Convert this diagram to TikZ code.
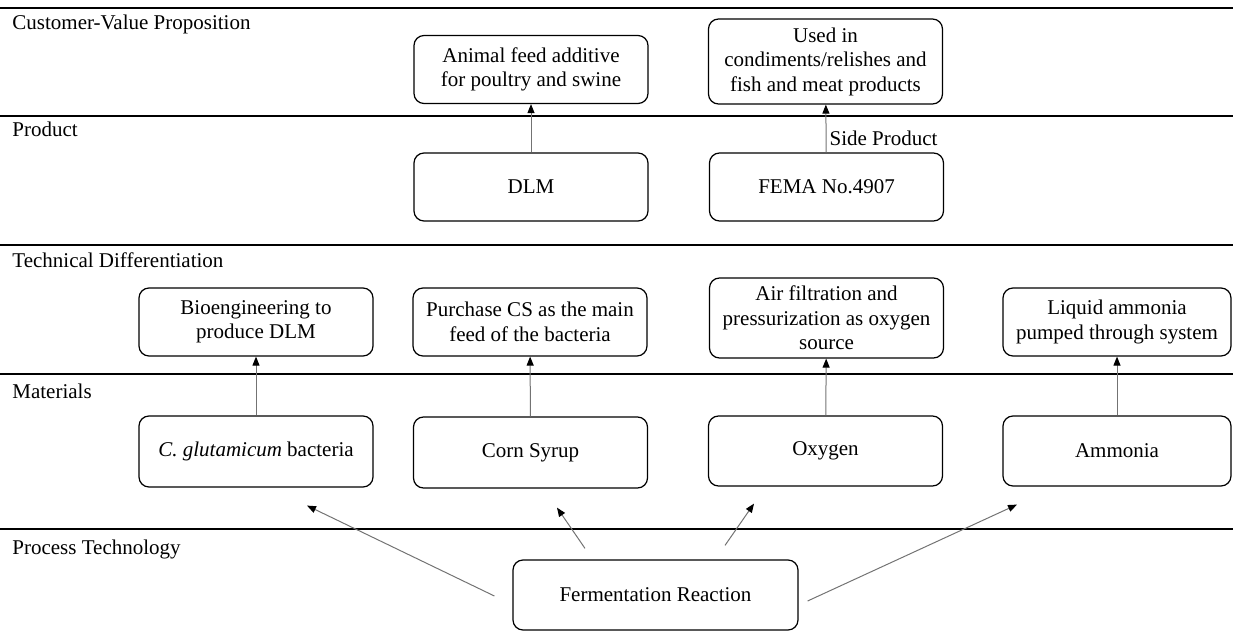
\documentclass[tikz,border=0pt]{standalone}
\usepackage{fontspec}
\setmainfont{Liberation Serif}
\usetikzlibrary{arrows.meta}
\tikzset{
  box/.style={rectangle, draw, rounded corners=5pt, line width=0.6pt, minimum width=117pt, minimum height=34pt, align=center, inner sep=2pt},
  link/.style={draw=black!55, line width=0.5pt, -{Triangle[length=4.5pt,width=3.5pt,black]}},
  layer/.style={line width=0.7pt},
  heading/.style={anchor=base west, inner sep=0pt}
}
\begin{document}
\begin{tikzpicture}[x=0.5pt, y=-0.5pt, font=\fontsize{10.5}{12.25}\selectfont]
  \useasboundingbox (0, 0) rectangle (1233, 631);
  % Layers
  \draw[layer] (0, 8) -- (1233, 8);
  \draw[layer] (0, 116) -- (1233, 116);
  \draw[layer] (0, 245) -- (1233, 245);
  \draw[layer] (0, 374) -- (1233, 374);
  \draw[layer] (0, 529) -- (1233, 529);
  \node (h-cvp) [heading] at (12, 30) {Customer-Value Proposition};
  \node (h-prod) [heading] at (12, 137) {Product};
  \node (h-tech) [heading] at (12, 268) {Technical Differentiation};
  \node (h-mat) [heading] at (12, 398) {Materials};
  \node (h-proc) [heading] at (12, 554) {Process Technology};
  % Nodes
  \node (feed) [box] at (531, 69.5) {Animal feed additive\\for poultry and swine};
  \node (used) [box, minimum height=42.5pt] at (825.5, 61.5) {Used in\\condiments/relishes and\\fish and meat products};
  \node (dlm) [box] at (531, 187) {DLM};
  \node (fema) [box] at (826.5, 187) {FEMA No.4907};
  \node (bio) [box] at (256, 322) {Bioengineering to\\produce DLM};
  \node (buy) [box] at (530, 322) {Purchase CS as the main\\feed of the bacteria};
  \node (air) [box, minimum height=40pt] at (826.5, 318) {Air filtration and\\pressurization as oxygen\\source};
  \node (pump) [box, minimum width=114pt] at (1117, 322) {Liquid ammonia\\pumped through system};
  \node (glut) [box, minimum height=35.5pt] at (256, 451.5) {\textit{C. glutamicum} bacteria};
  \node (corn) [box, minimum height=35.5pt] at (530.5, 452.5) {Corn Syrup};
  \node (oxy) [box, minimum height=35pt] at (825.5, 451) {Oxygen};
  \node (nh3) [box, minimum width=114pt, minimum height=35pt] at (1117, 451) {Ammonia};
  \node (ferm) [box, minimum width=142.5pt, minimum height=35pt] at (655.5, 595) {Fermentation Reaction};
  % Arrow
  \draw[link] (dlm) -- (feed);
  \draw[link] (fema) -- node (side) [anchor=west, pos=0.3, inner sep=1.5pt] {Side Product} (used);
  \draw[link] (glut) -- (bio);
  \draw[link] (corn) -- (buy);
  \draw[link] (oxy) -- (air);
  \draw[link] (nh3) -- (pump);
  \coordinate (to-glut) at ([shift={(51, 18)}]glut.south);
  \coordinate (to-corn) at ([shift={(26.5, 19)}]corn.south);
  \coordinate (to-oxy) at ([shift={(-71.5, 17)}]oxy.south);
  \coordinate (to-nh3) at ([shift={(-100, 18)}]nh3.south);
  \draw[link] ([shift={(-18, 1)}]ferm.west) -- (to-glut);
  \draw[link] ([shift={(-70.5, -11)}]ferm.north) -- (to-corn);
  \draw[link] ([shift={(69.5, -14)}]ferm.north) -- (to-oxy);
  \draw[link] ([shift={(9, 6)}]ferm.east) -- (to-nh3);
\end{tikzpicture}
\end{document}
